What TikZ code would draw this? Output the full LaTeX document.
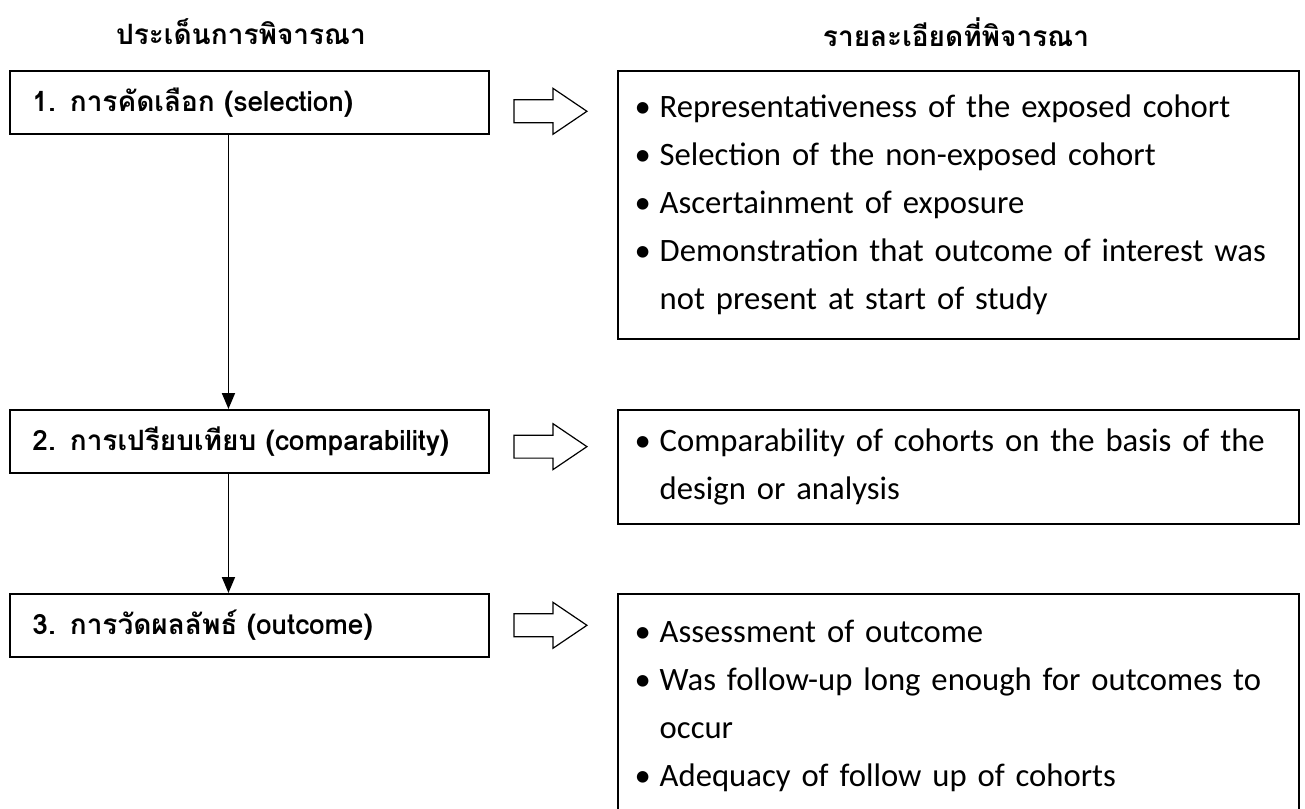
\documentclass[tikz,border=0pt]{standalone}
\usepackage{fontspec}
\newfontfamily\thaifont[Script=Thai]{Loma}
\newfontfamily\listfont{Carlito}
\usetikzlibrary{arrows.meta, positioning}

\newcommand{\bul}{\makebox[18.75pt][l]{\textbullet}}
\newcommand{\hollowarrow}[2]{%
  \draw[blockarrow] ([xshift=18pt,yshift=#2]#1.east) -- ++(0,8.6pt) -- ++(29.25pt,0) -- ++(0,8.65pt)
    -- ++(25.5pt,-17.25pt) -- ++(-25.5pt,-17.25pt) -- ++(0,8.65pt) -- ++(-29.25pt,0) -- cycle;}

\tikzset{
  topic/.style={draw, line width=1.2pt, rectangle, align=left, text width=325.5pt, inner xsep=17pt,
    minimum height=47.25pt, font=\thaifont\bfseries\fontsize{21}{26}\selectfont},
  detail/.style={draw, line width=1.2pt, rectangle, align=left, text width=485.25pt, inner xsep=12.75pt,
    font=\listfont\fontsize{24.5}{36}\selectfont},
  heading/.style={font=\thaifont\bfseries\fontsize{21}{26}\selectfont},
  flow/.style={-{Triangle[width=9.75pt,length=12pt]}, line width=1.4pt},
  blockarrow/.style={line width=0.9pt, line join=miter}
}

\begin{document}
\begin{tikzpicture}[x=0.75pt, y=-0.75pt]
    \useasboundingbox (0,0) rectangle (1305,809);
    \clip (0,0) rectangle (1305,809);

    \node[heading] (lefthead) at (241,32) {ประเด็นการพิจารณา};
    \node[heading] (righthead) at (956,32) {รายละเอียดที่พิจารณา};

    \node[topic, anchor=north west] (sel) at (9,70) {1. การคัดเลือก (selection)};
    \node[topic, anchor=north west] (comp) at (9,409) {2. การเปรียบเทียบ (comparability)};
    \node[topic, anchor=north west] (outc) at (9,593) {3. การวัดผลลัพธ์ (outcome)};

    \node[detail, anchor=north west, minimum height=201pt] (selinfo) at ([xshift=95.25pt]sel.north east) {%
        \bul Representativeness of the exposed cohort\\
        \bul Selection of the non-exposed cohort\\
        \bul Ascertainment of exposure\\
        \bul Demonstration that outcome of interest was\\
        \hspace*{18.75pt}not present at start of study};
    \node[detail, anchor=north west, minimum height=85.5pt] (compinfo) at ([xshift=95.25pt]comp.north east) {%
        \bul Comparability of cohorts on the basis of the\\
        \hspace*{18.75pt}design or analysis};
    \node[detail, anchor=north west, minimum height=168.75pt] (outcinfo) at ([xshift=95.25pt]outc.north east) {%
        \bul Assessment of outcome\\
        \bul Was follow-up long enough for outcomes to\\
        \hspace*{18.75pt}occur\\
        \bul Adequacy of follow up of cohorts};

    \draw[flow] ([xshift=-15.75pt]sel.south) -- ([xshift=-15.75pt]comp.north);
    \draw[flow] ([xshift=-15.75pt]comp.south) -- ([xshift=-15.75pt]outc.north);

    \hollowarrow{sel}{-6.75pt}
    \hollowarrow{comp}{-4pt}
    \hollowarrow{outc}{0pt}
\end{tikzpicture}
\end{document}
